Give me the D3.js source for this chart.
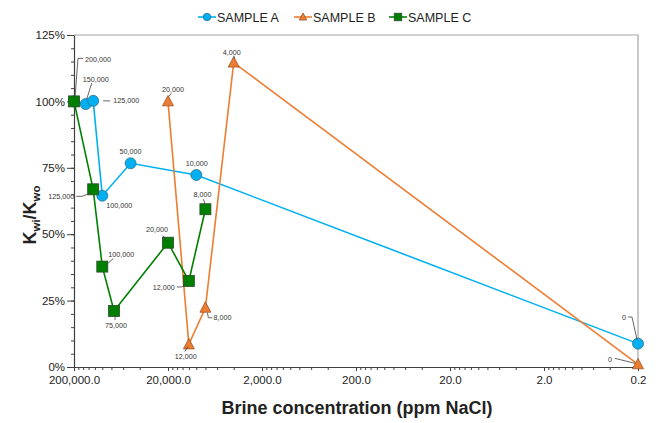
<!DOCTYPE html>
<html>
<head>
<meta charset="utf-8">
<script src="https://cdn.jsdelivr.net/npm/d3@7"></script>
<style>
  body { margin: 0; background: #fff; }
  svg { font-family: "Liberation Sans", Arial, sans-serif; }
</style>
</head>
<body>
<svg id="chart" width="656" height="423"></svg>
<script>
//------------------------------------------------------------------------------
//Data
//------------------------------------------------------------------------------
let seriesNames = ["SAMPLE A", "SAMPLE B", "SAMPLE C"];

// brine concentration (ppm NaCl), 0 is drawn at the axis end (0.2)
let concA = [200000, 150000, 125000, 100000, 50000, 10000, 0];
let valsA = [1.00, 0.990, 1.002, 0.645, 0.767, 0.723, 0.088];

let concB = [20000, 12000, 8000, 4000, 0];
let valsB = [1.00, 0.085, 0.223, 1.146, 0.010];

let concC = [200000, 125000, 100000, 75000, 20000, 12000, 8000];
let valsC = [1.00, 0.669, 0.378, 0.211, 0.468, 0.324, 0.594];

let xTickValues = [200000, 20000, 2000, 200, 20, 2, 0.2];
let yTickValues = [0, 0.25, 0.5, 0.75, 1.0, 1.25];

//------------------------------------------------------------------------------
//Layout / style
//------------------------------------------------------------------------------
let colors = ["#00b0f0", "#ed7d31", "#008000"];
let strokes = ["#2f6f8f", "#9a5526", "#2b4a2b"];
let shapes = ["circle", "triangle", "square"];

// data labels: [dx, dy (text centre from point), anchor, leader points relative to point]
let labelPosA = [
    null,
    [10, -25, "middle", [[6, -21], [1, -5]]],
    [20, 0, "start", [[10, 0], [17, 0]]],
    [17, 10, "middle", null],
    [0, -12, "middle", null],
    [0.5, -12, "middle", null],
    [-14, -26.5, "middle", [[-10, -26.6], [-6, -26.6], [-1, -4]]]
];
let labelPosB = [
    [5, -12, "middle", [[3, -8], [1, -5]]],
    [-3, 11.5, "middle", [[-4, 7], [-1, 2]]],
    [8, 9.5, "start", [[2, 5], [3, 10], [7, 10]]],
    [-2, -10.5, "middle", [[0, -7], [1, -4]]],
    [-28, -5, "middle", [[-23, -6], [-3, -1]]]
];
let labelPosC = [
    [11, -42.4, "start", [[9, -43], [4, -43], [1, -4]]],
    [-19, 7.5, "end", [[-17, 7], [-11, 7], [-2, 3.5]]],
    [19, -12.6, "middle", [[11, -8], [3, -1]]],
    [2, 14, "middle", [[1, 4], [1, 9]]],
    [-11, -13, "middle", [[-5, -7], [-1, -1]]],
    [-14, 6, "end", [[-12, 6], [-7, 6], [-1, 1]]],
    [-3, -15, "middle", [[-2, -10], [0, -4]]]
];

let M = { left: 74, right: 638, top: 35, bottom: 367 };

main();

function main()
{
    var svg = d3.select("#chart");

    var x = d3.scaleLog().domain([200000, 0.2]).range([M.left, M.right]);
    var y = d3.scaleLinear().domain([0, 1.25]).range([M.bottom, M.top]);
    var xv = c => c === 0 ? 0.2 : c;

    // plot border (top/right)
    svg.append("path")
        .attr("d", `M${M.left},${M.top}H${M.right}V${M.bottom}`)
        .attr("fill", "none").attr("stroke", "#a6a6a6").attr("stroke-width", 1.2);

    // minor ticks
    var xMinor = [];
    xTickValues.slice(1).forEach(d => { for (let m = 2; m <= 9; m++) xMinor.push(d * m); });
    var yMinor = d3.range(0, 1.2501, 0.05);

    var gx = svg.append("g").attr("transform", `translate(0,${M.bottom})`);
    gx.call(d3.axisBottom(x).tickValues(xMinor).tickSize(3).tickFormat(""));
    gx.call(g => g.select(".domain").remove());
    var gxMaj = svg.append("g").attr("transform", `translate(0,${M.bottom})`)
        .call(d3.axisBottom(x).tickValues(xTickValues).tickSize(4).tickSizeOuter(0).tickPadding(5)
            .tickFormat(d3.format(",.1f")));

    var gy = svg.append("g").attr("transform", `translate(${M.left},0)`);
    gy.call(d3.axisLeft(y).tickValues(yMinor).tickSize(3).tickFormat(""));
    gy.call(g => g.select(".domain").remove());
    svg.append("g").attr("transform", `translate(${M.left},0)`)
        .call(d3.axisLeft(y).tickValues(yTickValues).tickSize(7).tickSizeOuter(0).tickPadding(2)
            .tickFormat(d3.format(".0%")));

    svg.selectAll(".tick line").attr("stroke", "#404040");
    svg.selectAll(".domain").attr("stroke", "#404040").attr("stroke-width", 1.2);
    svg.selectAll(".tick text").attr("font-size", 11.5).attr("fill", "#222")
        .attr("font-family", "Liberation Sans, Arial, sans-serif");

    // axis titles
    svg.append("text").attr("x", 357).attr("y", 414).attr("text-anchor", "middle")
        .attr("font-size", 18).attr("font-weight", "bold").attr("fill", "#222")
        .text("Brine concentration (ppm NaCl)");

    var yt = svg.append("text").attr("transform", "translate(36,215) rotate(-90)")
        .attr("text-anchor", "middle").attr("font-size", 18).attr("font-weight", "bold").attr("fill", "#222");
    yt.append("tspan").text("K");
    yt.append("tspan").text("wi").attr("font-size", 11.5).attr("dy", 4);
    yt.append("tspan").text("/K").attr("dy", -4);
    yt.append("tspan").text("wo").attr("font-size", 11.5).attr("dy", 4);

    var series = [
        { conc: concA, vals: valsA, labels: labelPosA },
        { conc: concB, vals: valsB, labels: labelPosB },
        { conc: concC, vals: valsC, labels: labelPosC }
    ];

    var line = d3.line().x(d => x(xv(d[0]))).y(d => y(d[1]));

    series.forEach((s, i) => {
        var pts = s.conc.map((c, j) => [c, s.vals[j]]);
        svg.append("path").datum(pts).attr("d", line)
            .attr("fill", "none").attr("stroke", colors[i]).attr("stroke-width", 1.6);
        pts.forEach(p => drawMarker(svg, shapes[i], x(xv(p[0])), y(p[1]), 11, colors[i], strokes[i]));
    });

    // data labels with leader lines
    var leader = d3.line();
    series.forEach((s, i) => {
        s.conc.forEach((c, j) => {
            var lp = s.labels[j];
            if (!lp) return;
            var px = x(xv(c)), py = y(s.vals[j]);
            if (lp[3]) {
                svg.append("path")
                    .attr("d", leader(lp[3].map(q => [px + q[0], py + q[1]])))
                    .attr("fill", "none").attr("stroke", "#404040").attr("stroke-width", 0.8);
            }
            svg.append("text").attr("x", px + lp[0]).attr("y", py + lp[1] + 2.6)
                .attr("text-anchor", lp[2])
                .attr("font-size", 7.2).attr("fill", "#333")
                .text(d3.format(",")(c));
        });
    });

    // legend
    var legX = [198, 294, 389];
    seriesNames.forEach((n, i) => {
        var g = svg.append("g").attr("transform", `translate(${legX[i]},17)`);
        g.append("line").attr("x1", 0).attr("x2", 18).attr("stroke", colors[i]).attr("stroke-width", 1.6);
        drawMarker(g, shapes[i], 9, 0, 7.5, colors[i], strokes[i]);
        g.append("text").attr("x", 19).attr("y", 4.5).attr("font-size", 12.5).attr("fill", "#222").text(n);
    });
}

function drawMarker(sel, shape, cx, cy, size, fill, stroke)
{
    if (shape === "circle") {
        sel.append("circle").attr("cx", cx).attr("cy", cy).attr("r", size / 2)
            .attr("fill", fill).attr("stroke", stroke).attr("stroke-width", 0.8);
    } else if (shape === "square") {
        sel.append("rect").attr("x", cx - size / 2).attr("y", cy - size / 2)
            .attr("width", size).attr("height", size)
            .attr("fill", fill).attr("stroke", stroke).attr("stroke-width", 0.8);
    } else {
        var h = size * 0.9;
        sel.append("path")
            .attr("d", `M${cx},${cy - h * 0.6}L${cx + size / 2},${cy + h * 0.45}L${cx - size / 2},${cy + h * 0.45}Z`)
            .attr("fill", fill).attr("stroke", stroke).attr("stroke-width", 0.8);
    }
}
</script>
</body>
</html>
